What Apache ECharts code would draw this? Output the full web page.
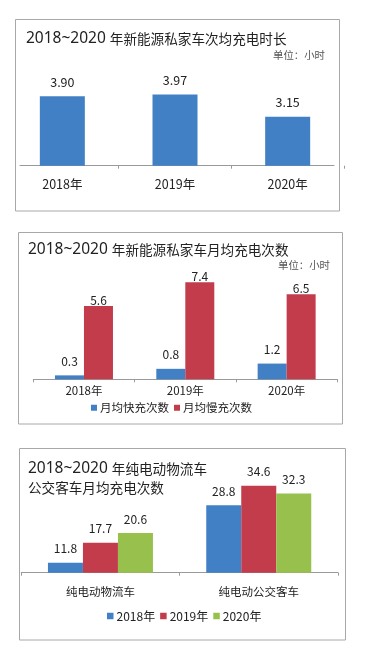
<!DOCTYPE html>
<html><head><meta charset="utf-8">
<script src="https://cdn.jsdelivr.net/npm/echarts@6/dist/echarts.min.js"></script>
<style>html,body{margin:0;padding:0;background:#fff}#c{width:387px;height:650px}</style>
</head><body><div id="c"></div>
<script>
// ---- data ----
const years = ['2018年', '2019年', '2020年'];
const avgDurationHours = [3.90, 3.97, 3.15];
const fastChargesPerMonth = [0.3, 0.8, 1.2];
const slowChargesPerMonth = [5.6, 7.4, 6.5];
const vehicleTypes = ['纯电动物流车', '纯电动公交客车'];
const charges2018 = [11.8, 28.8];
const charges2019 = [17.7, 34.6];
const charges2020 = [20.6, 32.3];
const seriesNames2 = ['月均快充次数', '月均慢充次数'];
const seriesNames3 = ['2018年', '2019年', '2020年'];

const BLUE = '#4280c6', RED = '#c23c4b', GREEN = '#97c04c';
const CJK = "'Noto Sans CJK SC', sans-serif";
const LAT = "'Noto Sans', 'Noto Sans CJK SC', sans-serif";
const TXT = '#222';
const AX = '#9a9a9a';

const chart = echarts.init(document.getElementById('c'), null, {renderer: 'canvas'});

const titleRich = {
  a: {fontSize: 15.5, fontFamily: LAT, fontWeight: 'normal', color: TXT, lineHeight: 19},
  b: {fontSize: 13.6, fontFamily: CJK, fontWeight: 'normal', color: TXT, lineHeight: 19}
};
function mkTitle(text, left, top) {
  return {text: text, left: left, top: top, padding: 0,
    textStyle: {rich: titleRich, lineHeight: 19, fontWeight: 'normal', color: TXT}};
}
function unitTitle(left, top) {
  return {text: '单位：小时', left: left, top: top, padding: 0,
    textStyle: {fontSize: 10.4, fontWeight: 'normal', color: '#555', fontFamily: CJK, lineHeight: 12}};
}
function valLabel(dist, size, digits) {
  return {show: true, position: 'top', distance: dist, fontSize: size, color: TXT, fontFamily: CJK,
    formatter: p => Number(p.value).toFixed(digits)};
}

const option = {
  animation: false,
  backgroundColor: '#fff',
  title: [
    mkTitle('{a|2018~2020 }{b|年新能源私家车次均充电时长}', 26, 29),
    unitTitle(273, 49),
    mkTitle('{a|2018~2020 }{b|年新能源私家车月均充电次数}', 28, 240),
    unitTitle(278, 259),
    mkTitle('{a|2018~2020 }{b|年纯电动物流车}\n{b|公交客车月均充电次数}', 28, 459.5)
  ],
  legend: [
    {data: seriesNames2, left: 91, top: 402, padding: 0, itemWidth: 6, itemHeight: 6, itemGap: 5,
      icon: 'rect', textStyle: {fontSize: 11.5, color: TXT, fontFamily: CJK, padding: [0, 0, 0, -2]}},
    {data: seriesNames3, left: 107, top: 610, padding: 0, itemWidth: 6.5, itemHeight: 6.5, itemGap: 5,
      icon: 'rect', textStyle: {fontSize: 12, color: TXT, fontFamily: CJK, padding: [0, 0, 0, -2]}}
  ],
  grid: [
    {left: 6, width: 338, top: 66.4, height: 99.3},
    {left: 20, width: 314, top: 66.4, height: 99.3},
    {left: 33.3, width: 304, top: 274.5, height: 104.8},
    {left: 21.3, width: 316.6, top: 467.4, height: 105.3}
  ],
  xAxis: [
    {gridIndex: 0, type: 'category', data: years, axisLine: {show: false},
      axisTick: {show: true, length: 3, interval: (i) => i > 0, lineStyle: {color: AX}},
      axisLabel: {fontSize: 12.5, color: TXT, margin: 12, fontFamily: CJK}},
    {gridIndex: 1, type: 'category', data: years, axisLine: {show: true, lineStyle: {color: AX}},
      axisTick: {show: false}, axisLabel: {show: false}},
    {gridIndex: 2, type: 'category', data: years, axisLine: {show: true, lineStyle: {color: AX}},
      axisTick: {show: true, length: 3, lineStyle: {color: AX}},
      axisLabel: {fontSize: 11.5, color: TXT, margin: 6, fontFamily: CJK}},
    {gridIndex: 3, type: 'category', data: vehicleTypes, axisLine: {show: true, lineStyle: {color: AX}},
      axisTick: {show: true, length: 3, lineStyle: {color: AX}},
      axisLabel: {fontSize: 11.5, color: TXT, margin: 13, fontFamily: CJK}}
  ],
  yAxis: [
    {gridIndex: 0, type: 'value', min: 1.35, max: 5, show: false},
    {gridIndex: 1, type: 'value', min: 0, max: 1, show: false},
    {gridIndex: 2, type: 'value', min: 0, max: 8, show: false},
    {gridIndex: 3, type: 'value', min: 8.85, max: 40, show: false}
  ],
  series: [
    {type: 'bar', xAxisIndex: 0, yAxisIndex: 0, data: avgDurationHours, barWidth: 45,
      itemStyle: {color: BLUE}, label: valLabel(8, 12.5, 2)},
    {type: 'bar', name: seriesNames2[0], xAxisIndex: 2, yAxisIndex: 2, data: fastChargesPerMonth,
      barWidth: 29, barGap: '0%', itemStyle: {color: BLUE}, label: valLabel(8, 12, 1)},
    {type: 'bar', name: seriesNames2[1], xAxisIndex: 2, yAxisIndex: 2, data: slowChargesPerMonth,
      barWidth: 29, barGap: '0%', itemStyle: {color: RED}, label: valLabel(0, 12, 1)},
    {type: 'bar', name: seriesNames3[0], xAxisIndex: 3, yAxisIndex: 3, data: charges2018,
      barWidth: 35, barGap: '0%', itemStyle: {color: BLUE}, label: valLabel(8, 12, 1)},
    {type: 'bar', name: seriesNames3[1], xAxisIndex: 3, yAxisIndex: 3, data: charges2019,
      barWidth: 35, barGap: '0%', itemStyle: {color: RED}, label: valLabel(8, 12, 1)},
    {type: 'bar', name: seriesNames3[2], xAxisIndex: 3, yAxisIndex: 3, data: charges2020,
      barWidth: 35, barGap: '0%', itemStyle: {color: GREEN}, label: valLabel(8, 12, 1)}
  ],
  graphic: [
    {type: 'rect', shape: {x: 15.5, y: 19.5, width: 324, height: 191.5}, style: {fill: 'none', stroke: '#a8a8a8', lineWidth: 1}, silent: true},
    {type: 'rect', shape: {x: 18.5, y: 232.5, width: 324, height: 191.5}, style: {fill: 'none', stroke: '#a8a8a8', lineWidth: 1}, silent: true},
    {type: 'rect', shape: {x: 19.5, y: 448.5, width: 326, height: 191.5}, style: {fill: 'none', stroke: '#a8a8a8', lineWidth: 1}, silent: true}
  ]
};
chart.setOption(option);
</script></body></html>
